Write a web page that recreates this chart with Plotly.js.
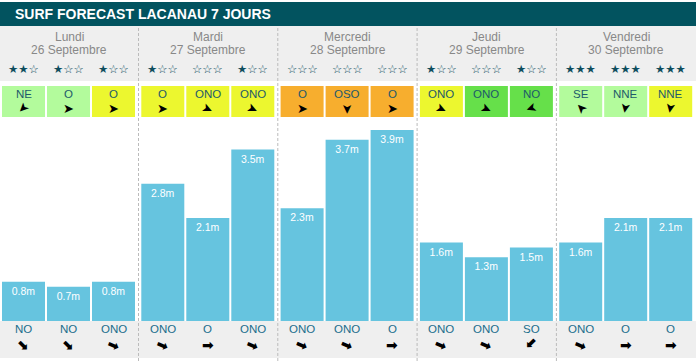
<!DOCTYPE html>
<html>
<head>
<meta charset="utf-8">
<script src="https://cdn.plot.ly/plotly-3.0.1.min.js"></script>
<style>html,body{margin:0;padding:0;background:#fff;}#chart{width:696px;height:361px;}</style>
</head>
<body>
<div id="chart"></div>
<script>
const chartTitle = 'SURF FORECAST LACANAU 7 JOURS';
const days = ['Lundi', 'Mardi', 'Mercredi', 'Jeudi', 'Vendredi'];
const dates = ['26 Septembre', '27 Septembre', '28 Septembre', '29 Septembre', '30 Septembre'];
const waveHeights = [0.8, 0.7, 0.8, 2.8, 2.1, 3.5, 2.3, 3.7, 3.9, 1.6, 1.3, 1.5, 1.6, 2.1, 2.1];
const starRatings = [2, 1, 1, 1, 0, 1, 0, 0, 0, 1, 0, 1, 3, 3, 3];
const windDirs = ['NE', 'O', 'O', 'O', 'ONO', 'ONO', 'O', 'OSO', 'O', 'ONO', 'ONO', 'NO', 'SE', 'NNE', 'NNE'];
const windLevels = ['light', 'light', 'yellow', 'yellow', 'yellow', 'yellow', 'orange', 'orange', 'orange', 'yellow', 'green', 'green', 'light', 'light', 'yellow'];
const windArrowAngles = [135, 0, 0, 0, 25, 25, 0, 90, 0, 25, 25, 160, 225, 100, 100];
const swellDirs = ['NO', 'NO', 'ONO', 'ONO', 'O', 'ONO', 'ONO', 'ONO', 'O', 'ONO', 'ONO', 'SO', 'ONO', 'O', 'O'];
const swellArrowAngles = [45, 45, 22, 22, 0, 22, 22, 22, 0, 22, 22, 135, 22, 0, 0];

const windPalette = {light: '#b3fb9c', yellow: '#ecf72f', orange: '#f7ae2e', green: '#66e04a'};
const FONT = 'Liberation Sans, Arial, sans-serif';
const W = 696, H = 361;
const DAY_W = 139.3;
const pxPerM = 49;
const baseY = 321;
const py = p => 1 - p / H;
const slotX = i => Math.floor(i / 3) * DAY_W + 23.5 + (i % 3) * 45;
const dayX = d => d * DAY_W + 69;

const shapes = [];
const annotations = [];

shapes.push({type: 'rect', xref: 'x', yref: 'paper', x0: 0, x1: W, y0: py(26), y1: py(2), fillcolor: '#02535f', line: {width: 0}, layer: 'below'});
annotations.push({xref: 'x', yref: 'paper', x: 13, y: py(14), xanchor: 'left', yanchor: 'middle', text: '<b>' + chartTitle + '</b>', showarrow: false, font: {family: FONT, size: 14, color: '#ffffff'}});
shapes.push({type: 'rect', xref: 'x', yref: 'paper', x0: 0, x1: W, y0: py(81), y1: py(26), fillcolor: '#efefef', line: {width: 0}, layer: 'below'});
shapes.push({type: 'rect', xref: 'x', yref: 'paper', x0: 0, x1: W, y0: py(358), y1: py(baseY), fillcolor: '#efefef', line: {width: 0}, layer: 'below'});
for (let d = 1; d < days.length; d++) {
  const sx = d * DAY_W - 0.8;
  shapes.push({type: 'line', xref: 'x', yref: 'paper', x0: sx, x1: sx, y0: py(H), y1: py(26), line: {color: '#bbbbbb', width: 1, dash: '3px,2px'}, layer: 'below'});
}
days.forEach((d, k) => {
  annotations.push({xref: 'x', yref: 'paper', x: dayX(k), y: py(37), text: d, showarrow: false, font: {family: FONT, size: 12, color: '#888888'}, xanchor: 'center', yanchor: 'middle'});
  annotations.push({xref: 'x', yref: 'paper', x: dayX(k), y: py(49.5), text: dates[k], showarrow: false, font: {family: FONT, size: 12, color: '#888888'}, xanchor: 'center', yanchor: 'middle'});
});
waveHeights.forEach((v, i) => {
  const cx = slotX(i);
  const s = starRatings[i];
  annotations.push({xref: 'x', yref: 'paper', x: cx, y: py(69), text: '★'.repeat(s) + '☆'.repeat(3 - s), showarrow: false, font: {family: 'DejaVu Sans', size: 11.5, color: '#0d4d5d'}, xanchor: 'center', yanchor: 'middle'});
  shapes.push({type: 'rect', xref: 'x', yref: 'paper', x0: cx - 21.5, x1: cx + 21.5, y0: py(117), y1: py(86), fillcolor: windPalette[windLevels[i]], line: {width: 0}, layer: 'below'});
  annotations.push({xref: 'x', yref: 'paper', x: cx, y: py(93.5), text: windDirs[i], showarrow: false, borderpad: 0, font: {family: FONT, size: 11.5, color: '#1d5a6a'}, xanchor: 'center', yanchor: 'middle'});
  annotations.push({xref: 'x', yref: 'paper', x: cx, y: py(108.5), text: '➤', textangle: windArrowAngles[i], showarrow: false, borderpad: 0, font: {family: 'DejaVu Sans', size: 13, color: '#000000'}, xanchor: 'center', yanchor: 'middle'});
  annotations.push({xref: 'x', yref: 'paper', x: cx, y: py(328.5), text: swellDirs[i], showarrow: false, borderpad: 0, font: {family: FONT, size: 11.5, color: '#1a6d8c'}, xanchor: 'center', yanchor: 'middle'});
  annotations.push({xref: 'x', yref: 'paper', x: cx, y: py(344.5), text: '<b>➡</b>', textangle: swellArrowAngles[i], showarrow: false, borderpad: 0, font: {family: 'DejaVu Sans', size: 14, color: '#000000'}, xanchor: 'center', yanchor: 'middle'});
});

const trace = {
  type: 'bar',
  x: waveHeights.map((v, i) => slotX(i)),
  y: waveHeights,
  width: 43,
  marker: {color: '#66c4df', line: {width: 0}},
  text: waveHeights.map(v => v.toFixed(1) + 'm'),
  textposition: 'inside',
  insidetextanchor: 'end',
  textangle: 0,
  constraintext: 'none',
  textfont: {family: FONT, size: 10.5, color: '#ffffff'},
  hoverinfo: 'skip',
  cliponaxis: false
};

const layout = {
  width: W, height: H,
  margin: {l: 0, r: 0, t: 0, b: 0, pad: 0},
  paper_bgcolor: '#ffffff', plot_bgcolor: 'rgba(0,0,0,0)',
  showlegend: false,
  xaxis: {range: [0, W], visible: false, fixedrange: true},
  yaxis: {domain: [1 - baseY / H, 1], range: [0, baseY / pxPerM], visible: false, fixedrange: true},
  shapes: shapes,
  annotations: annotations
};

Plotly.newPlot('chart', [trace], layout, {staticPlot: true, displayModeBar: false});
</script>
</body>
</html>
